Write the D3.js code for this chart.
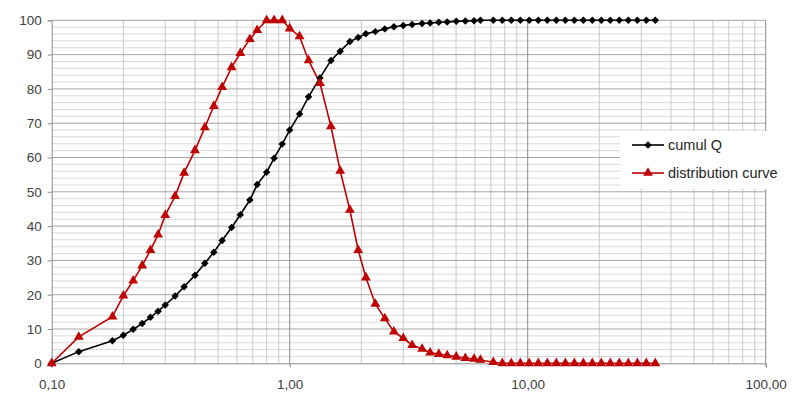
<!DOCTYPE html>
<html>
<head>
<meta charset="utf-8">
<script src="https://cdn.jsdelivr.net/npm/d3@7"></script>
<style>
  html, body { margin: 0; padding: 0; background: #fff; }
  svg { display: block; }
  text { font-family: "Liberation Sans", Arial, sans-serif; }
</style>
</head>
<body>
<svg id="chart" width="800" height="407"></svg>
<script>
// ---- data ----
const sizes = [0.10, 0.13, 0.18, 0.20, 0.22, 0.24, 0.26, 0.28, 0.30, 0.33, 0.36, 0.40, 0.44, 0.48, 0.52, 0.57, 0.62, 0.68,
  0.73, 0.80, 0.86, 0.93, 1.00, 1.10, 1.20, 1.34, 1.49, 1.63, 1.79, 1.94, 2.09, 2.29, 2.51, 2.74, 3.00,
  3.27, 3.60, 3.89, 4.23, 4.59, 5.01, 5.47, 5.95, 6.33, 7.17, 7.82, 8.53, 9.31, 10.15, 11.08, 12.09, 13.19,
  14.39, 15.70, 17.13, 18.68, 20.38, 22.23, 24.26, 26.47, 28.88, 31.50, 34.37];
const cumulQ = [0, 3.4, 6.6, 8.2, 9.9, 11.6, 13.4, 15.2, 17.0, 19.6, 22.3, 25.7, 29.2, 32.4, 35.8, 39.6, 43.3, 47.6,
  52.1, 55.7, 59.8, 63.9, 68.0, 72.7, 77.7, 83.2, 88.3, 91.0, 93.8, 95.0, 96.1, 96.7, 97.5, 98.1, 98.5,
  98.8, 99.1, 99.2, 99.4, 99.5, 99.7, 99.8, 99.9, 100, 100, 100, 100, 100, 100, 100, 100, 100,
  100, 100, 100, 100, 100, 100, 100, 100, 100, 100, 100];
const distribution = [0, 7.7, 13.6, 19.7, 24.1, 28.5, 33.0, 37.5, 43.2, 48.7, 55.5, 62.1, 68.8, 75.0, 80.5, 86.3, 90.4, 94.5,
  97.1, 100, 100, 100, 97.6, 95.3, 88.3, 81.7, 69.1, 56.1, 44.7, 33.0, 25.0, 17.3, 13.1, 9.2, 7.3,
  5.3, 4.2, 3.1, 2.7, 2.3, 1.9, 1.5, 1.25, 0.96, 0.3, 0, 0, 0, 0, 0, 0, 0,
  0, 0, 0, 0, 0, 0, 0, 0, 0, 0, 0];
const xTickValues = [0.1, 1, 10, 100];
const yTickValues = [0, 10, 20, 30, 40, 50, 60, 70, 80, 90, 100];
const seriesNames = ["cumul Q", "distribution curve"];

// ---- chart ----
const svg = d3.select("#chart");
const x = d3.scaleLog().domain([0.1, 100]).range([51.7, 765.7]);
const y = d3.scaleLinear().domain([0, 100]).range([363.3, 20.3]);

const grid = svg.append("g");
// horizontal minor gridlines every 2
const hMinor = d3.range(0, 101, 2).filter(v => v % 10 !== 0);
grid.selectAll(".hmin").data(hMinor).enter().append("line")
  .attr("x1", x(0.1)).attr("x2", x(100))
  .attr("y1", d => y(d)).attr("y2", d => y(d))
  .attr("stroke", "#d9d9d9").attr("stroke-width", 1);
// vertical minor gridlines
const vMinor = x.ticks().filter(v => ![0.1, 1, 10, 100].some(t => Math.abs(v - t) < 1e-9));
grid.selectAll(".vmin").data(vMinor).enter().append("line")
  .attr("x1", d => x(d)).attr("x2", d => x(d))
  .attr("y1", y(0)).attr("y2", y(100))
  .attr("stroke", "#c8c8c8").attr("stroke-width", 1);
// horizontal major gridlines
grid.selectAll(".hmaj").data(yTickValues.filter(v => v > 0)).enter().append("line")
  .attr("x1", x(0.1)).attr("x2", x(100))
  .attr("y1", d => y(d)).attr("y2", d => y(d))
  .attr("stroke", "#a6a6a6").attr("stroke-width", 1);
// vertical major gridlines
grid.selectAll(".vmaj").data(xTickValues.slice(1)).enter().append("line")
  .attr("x1", d => x(d)).attr("x2", d => x(d))
  .attr("y1", y(0)).attr("y2", y(100))
  .attr("stroke", "#8c8c8c").attr("stroke-width", 1);

// axes
const fmtX = d => d.toFixed(2).replace(".", ",");
const xAxis = svg.append("g").attr("transform", `translate(0,${y(0)})`)
  .call(d3.axisBottom(x).tickValues(xTickValues).tickFormat(fmtX).tickSize(4).tickPadding(12));
const yAxis = svg.append("g").attr("transform", `translate(${x(0.1)},0)`)
  .call(d3.axisLeft(y).tickValues(yTickValues).tickFormat(d3.format("d")).tickSize(4).tickPadding(6));
[xAxis, yAxis].forEach(a => {
  a.select(".domain").attr("stroke", "#8c8c8c");
  a.selectAll(".tick line").attr("stroke", "#8c8c8c");
  a.selectAll(".tick text").attr("fill", "#404040").style("font-size", "13.5px")
    .style("font-family", "'Liberation Sans', Arial, sans-serif");
});

// series
const pts = (vals) => sizes.map((s, i) => [s, vals[i]]);
const line = d3.line().x(d => x(d[0])).y(d => y(d[1]));
const diamond = d3.symbol().type(d3.symbolSquare).size(28);
const triangle = d3.symbol().type(d3.symbolTriangle).size(42);

const blackC = "#000000";
const redC = "#c00000";

svg.append("path").datum(pts(cumulQ)).attr("d", line)
  .attr("fill", "none").attr("stroke", blackC).attr("stroke-width", 1.6);
svg.append("path").datum(pts(distribution)).attr("d", line)
  .attr("fill", "none").attr("stroke", redC).attr("stroke-width", 1.6);

svg.append("g").selectAll("path").data(pts(cumulQ)).enter().append("path")
  .attr("d", diamond).attr("transform", d => `translate(${x(d[0])},${y(d[1])}) rotate(45)`)
  .attr("fill", blackC);
svg.append("g").selectAll("path").data(pts(distribution)).enter().append("path")
  .attr("d", triangle).attr("transform", d => `translate(${x(d[0])},${y(d[1])})`)
  .attr("fill", redC);

// legend
const lg = svg.append("g");
lg.append("rect").attr("x", 620).attr("y", 131).attr("width", 172).attr("height", 58).attr("fill", "#fff");
const legendItems = [
  { name: seriesNames[0], color: blackC, sym: diamond, rot: 45, cy: 145 },
  { name: seriesNames[1], color: redC, sym: triangle, rot: 0, cy: 173 }
];
legendItems.forEach(it => {
  lg.append("line").attr("x1", 632).attr("x2", 664).attr("y1", it.cy).attr("y2", it.cy)
    .attr("stroke", it.color).attr("stroke-width", 1.6);
  lg.append("path").attr("d", it.sym).attr("transform", `translate(648,${it.cy}) rotate(${it.rot})`).attr("fill", it.color);
  lg.append("text").attr("x", 668).attr("y", it.cy).attr("dy", "0.35em")
    .attr("fill", "#262626").style("font-size", "14.5px").text(it.name);
});
</script>
</body>
</html>
